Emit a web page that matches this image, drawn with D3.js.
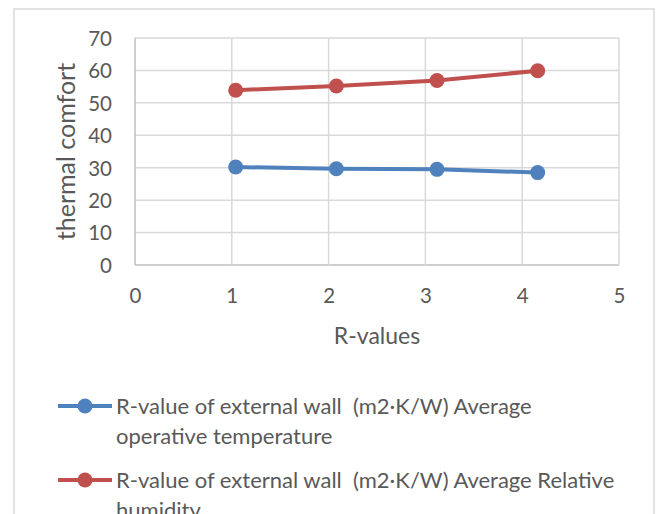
<!DOCTYPE html>
<html>
<head>
<meta charset="utf-8">
<script src="https://cdn.jsdelivr.net/npm/d3@7"></script>
<style>
  html, body { margin: 0; padding: 0; background: #fff; }
  svg { display: block; }
  text { font-family: Lato, "Open Sans", sans-serif; fill: #595959; }
</style>
</head>
<body>
<svg id="chart" width="657" height="514"></svg>
<script>
// R-value of the external wall (m2·K/W) for each simulated case
const rValues = [1.04, 2.08, 3.12, 4.16];
// Average operative temperature per case
const operativeTemp = [30.2, 29.7, 29.5, 28.5];
// Average relative humidity per case
const relativeHumidity = [53.9, 55.2, 56.9, 59.9];

const xTicks = [0, 1, 2, 3, 4, 5];
const yTicks = [0, 10, 20, 30, 40, 50, 60, 70];

const seriesNames = [
  "R-value of external wall  (m2·K/W) Average operative temperature",
  "R-value of external wall  (m2·K/W) Average Relative humidity"
];
// Legend entries broken into lines
const legendLines = [
  ["R-value of external wall  (m2·K/W) Average", "operative temperature"],
  ["R-value of external wall  (m2·K/W) Average Relative", "humidity"]
];
const seriesColors = ["#4f81bd", "#c0504d"];

const series = [
  { name: seriesNames[0], values: operativeTemp },
  { name: seriesNames[1], values: relativeHumidity }
];

const svg = d3.select("#chart");

// outer chart frame
svg.append("rect")
  .attr("x", 14).attr("y", 9)
  .attr("width", 640).attr("height", 540)
  .attr("fill", "#fff")
  .attr("stroke", "#d9d9d9").attr("stroke-width", 1.5);

const x = d3.scaleLinear().domain([0, 5]).range([135, 619]);
const y = d3.scaleLinear().domain([0, 70]).range([265, 38]);

// gridlines
const grid = svg.append("g");
grid.selectAll("line.h").data(yTicks).join("line")
  .attr("x1", x(0)).attr("x2", x(5))
  .attr("y1", d => y(d)).attr("y2", d => y(d))
  .attr("stroke", d => d === 0 ? "#bfbfbf" : "#d9d9d9").attr("stroke-width", 1.5);
grid.selectAll("line.v").data(xTicks).join("line")
  .attr("y1", y(0)).attr("y2", y(70))
  .attr("x1", d => x(d)).attr("x2", d => x(d))
  .attr("stroke", d => d === 0 ? "#bfbfbf" : "#d9d9d9").attr("stroke-width", 1.5);

// axes (labels only)
const yAxis = svg.append("g")
  .attr("transform", `translate(${x(0)},0)`)
  .call(d3.axisLeft(y).tickValues(yTicks).tickFormat(d3.format("d")).tickSize(0).tickPadding(23));
const xAxis = svg.append("g")
  .attr("transform", `translate(0,${y(0)})`)
  .call(d3.axisBottom(x).tickValues(xTicks).tickFormat(d3.format("d")).tickSize(0).tickPadding(23));
[yAxis, xAxis].forEach(g => {
  g.select(".domain").remove();
  g.selectAll("text").attr("font-size", 20.5).attr("fill", "#595959")
    .style("font-family", "Lato, sans-serif");
});
yAxis.selectAll("text").attr("dy", "0.36em");

// axis titles
svg.append("text")
  .attr("x", (x(0) + x(5)) / 2).attr("y", 344)
  .attr("text-anchor", "middle").attr("font-size", 23)
  .text("R-values");
svg.append("text")
  .attr("transform", `translate(75,${(y(0) + y(70)) / 2}) rotate(-90)`)
  .attr("text-anchor", "middle").attr("font-size", 25)
  .text("thermal comfort");

// series lines and markers
const line = d3.line().x((d, i) => x(rValues[i])).y(d => y(d));
series.forEach((s, k) => {
  svg.append("path")
    .attr("d", line(s.values))
    .attr("fill", "none")
    .attr("stroke", seriesColors[k]).attr("stroke-width", 4)
    .attr("stroke-linejoin", "round");
  svg.selectAll(null).data(s.values).join("circle")
    .attr("cx", (d, i) => x(rValues[i])).attr("cy", d => y(d))
    .attr("r", 7.5).attr("fill", seriesColors[k]);
});

// legend
const legendY = [406, 480];
series.forEach((s, k) => {
  const g = svg.append("g");
  g.append("line")
    .attr("x1", 58).attr("x2", 112)
    .attr("y1", legendY[k]).attr("y2", legendY[k])
    .attr("stroke", seriesColors[k]).attr("stroke-width", 4);
  g.append("circle")
    .attr("cx", 85).attr("cy", legendY[k]).attr("r", 7.5)
    .attr("fill", seriesColors[k]);
  const t = g.append("text")
    .attr("x", 116).attr("y", legendY[k] + 7.5)
    .attr("font-size", 22)
    .style("white-space", "pre");
  legendLines[k].forEach((ln, j) => {
    t.append("tspan").attr("x", 116).attr("dy", j === 0 ? 0 : 30).text(ln);
  });
});
</script>
</body>
</html>
